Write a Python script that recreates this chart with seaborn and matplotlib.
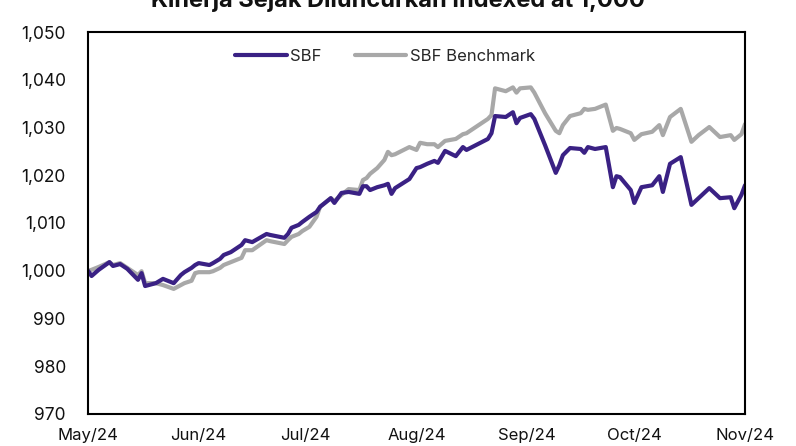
import matplotlib
matplotlib.use("Agg")
import matplotlib.pyplot as plt
import matplotlib.dates as mdates
import matplotlib.ticker as mticker
from matplotlib.lines import Line2D
import pandas as pd
import seaborn as sns

title = "Kinerja Sejak Diluncurkan Indexed at 1,000"
series_names = ["SBF", "SBF Benchmark"]
colors = ["#3a2184", "#a8a8a8"]

dates = [
    "2024-05-01", "2024-05-02", "2024-05-04", "2024-05-07", "2024-05-08", "2024-05-10",
    "2024-05-12", "2024-05-15", "2024-05-16", "2024-05-17", "2024-05-20", "2024-05-22",
    "2024-05-25", "2024-05-27", "2024-05-28", "2024-05-30", "2024-05-31", "2024-06-01",
    "2024-06-04", "2024-06-05", "2024-06-07", "2024-06-08", "2024-06-10", "2024-06-13",
    "2024-06-14", "2024-06-16", "2024-06-20", "2024-06-21", "2024-06-25", "2024-06-26",
    "2024-06-27", "2024-06-29", "2024-06-30", "2024-07-02", "2024-07-04", "2024-07-05",
    "2024-07-08", "2024-07-09", "2024-07-11", "2024-07-13", "2024-07-16", "2024-07-17",
    "2024-07-18", "2024-07-19", "2024-07-21", "2024-07-23", "2024-07-24", "2024-07-25",
    "2024-07-26", "2024-07-30", "2024-08-01", "2024-08-02", "2024-08-04", "2024-08-06",
    "2024-08-07", "2024-08-09", "2024-08-12", "2024-08-14", "2024-08-15", "2024-08-21",
    "2024-08-22", "2024-08-23", "2024-08-26", "2024-08-28", "2024-08-29", "2024-08-30",
    "2024-09-02", "2024-09-03", "2024-09-06", "2024-09-09", "2024-09-10", "2024-09-11",
    "2024-09-13", "2024-09-16", "2024-09-17", "2024-09-18", "2024-09-20", "2024-09-23",
    "2024-09-25", "2024-09-26", "2024-09-27", "2024-09-30", "2024-10-01", "2024-10-03",
    "2024-10-06", "2024-10-08", "2024-10-09", "2024-10-11", "2024-10-14", "2024-10-17",
    "2024-10-19", "2024-10-22", "2024-10-25", "2024-10-28", "2024-10-29", "2024-10-31",
    "2024-11-01",
]

sbf = [
    1000.0, 998.9, 1000.2, 1001.8, 1001.0, 1001.4,
    1000.4, 998.1, 999.5, 996.8, 997.4, 998.3,
    997.4, 999.1, 999.7, 1000.6, 1001.2, 1001.6,
    1001.2, 1001.6, 1002.5, 1003.3, 1003.9, 1005.4,
    1006.4, 1006.0, 1007.7, 1007.5, 1006.9, 1007.7,
    1009.0, 1009.6, 1010.2, 1011.3, 1012.3, 1013.4,
    1015.2, 1014.2, 1016.3, 1016.5, 1016.1, 1017.7,
    1017.7, 1016.9, 1017.5, 1017.9, 1018.2, 1016.1,
    1017.3, 1019.2, 1021.5, 1021.7, 1022.4, 1023.0,
    1022.6, 1025.1, 1024.0, 1025.9, 1025.3, 1027.6,
    1028.8, 1032.4, 1032.2, 1033.2, 1030.9, 1032.0,
    1032.8, 1031.8, 1026.3, 1020.5, 1022.1, 1024.2,
    1025.7, 1025.5, 1024.7, 1025.9, 1025.5, 1025.9,
    1017.5, 1019.8, 1019.6, 1016.9, 1014.2, 1017.5,
    1017.9, 1019.8, 1016.5, 1022.4, 1023.8, 1013.8,
    1015.2, 1017.3, 1015.2, 1015.4, 1013.1, 1015.9,
    1017.9,
]

benchmark = [
    1000.0, 1000.2, 1000.8, 1001.8, 1001.2, 1001.6,
    1000.6, 999.1, 999.9, 997.4, 997.4, 997.0,
    996.2, 997.0, 997.4, 997.9, 999.5, 999.7,
    999.7, 999.9, 1000.6, 1001.2, 1001.8, 1002.7,
    1004.3, 1004.3, 1006.4, 1006.2, 1005.6, 1006.4,
    1007.1, 1007.7, 1008.3, 1009.2, 1011.3, 1013.4,
    1015.2, 1014.6, 1015.9, 1017.1, 1016.9, 1019.0,
    1019.4, 1020.3, 1021.5, 1023.2, 1024.9, 1024.2,
    1024.4, 1025.9, 1025.3, 1026.8, 1026.5, 1026.5,
    1025.9, 1027.2, 1027.6, 1028.6, 1028.8, 1031.8,
    1032.6, 1038.2, 1037.6, 1038.4, 1037.3, 1038.2,
    1038.4, 1037.3, 1033.0, 1029.3, 1028.8, 1030.5,
    1032.4, 1033.0, 1033.9, 1033.7, 1033.9, 1034.8,
    1029.3, 1029.9, 1029.7, 1028.8, 1027.4, 1028.6,
    1029.1, 1030.5, 1028.4, 1032.2, 1033.9, 1027.0,
    1028.4, 1030.1, 1028.0, 1028.4, 1027.4, 1028.6,
    1030.7,
]

y_ticks = [970, 980, 990, 1000, 1010, 1020, 1030, 1040, 1050]
x_ticks = ["2024-05-01", "2024-06-01", "2024-07-01", "2024-08-01",
           "2024-09-01", "2024-10-01", "2024-11-01"]

df = pd.concat([
    pd.DataFrame({"date": pd.to_datetime(dates), "value": sbf, "series": series_names[0]}),
    pd.DataFrame({"date": pd.to_datetime(dates), "value": benchmark, "series": series_names[1]}),
])

sns.set_theme(style="white")
plt.rcParams["font.family"] = ["Inter", "DejaVu Sans"]

fig = plt.figure(figsize=(7.96, 4.46), dpi=100)
ax = fig.add_axes([88 / 796, 1 - 414 / 446, (745 - 88) / 796, (414 - 32) / 446])

# draw benchmark first so SBF sits on top
sns.lineplot(data=df, x="date", y="value", hue="series",
             hue_order=series_names[::-1], palette=colors[::-1],
             linewidth=3, ax=ax, legend=False, estimator=None, sort=True)

ax.set_xlim(pd.Timestamp(x_ticks[0]), pd.Timestamp(x_ticks[-1]))
ax.set_ylim(y_ticks[0], y_ticks[-1])
ax.set_yticks(y_ticks)
ax.yaxis.set_major_formatter(mticker.FuncFormatter(lambda v, p: f"{v:,.0f}"))
ax.set_xticks(pd.to_datetime(x_ticks))
ax.xaxis.set_major_formatter(mdates.DateFormatter("%b/%y"))
ax.set_xlabel("")
ax.set_ylabel("")
ax.tick_params(axis="both", length=0, labelsize=12, colors="#111111")
ax.tick_params(axis="y", labelsize=12.5, pad=16)
ax.tick_params(axis="x", pad=10)
for s in ax.spines.values():
    s.set_visible(True)
    s.set_color("black")
    s.set_linewidth(1.5)
ax.grid(False)

handles = [Line2D([], [], color=colors[0], lw=3),
           Line2D([], [], color=colors[1], lw=3)]
ax.legend(handles, series_names, loc="center", bbox_to_anchor=(0.452, 0.937),
          ncol=2, frameon=False, fontsize=12, handlelength=3.1,
          handletextpad=0.2, columnspacing=2.0)

fig.text(0.5, 1.0, title, ha="center", va="center", fontsize=17,
         fontweight="bold", color="#111111")

fig.savefig("out.png", dpi=100)
